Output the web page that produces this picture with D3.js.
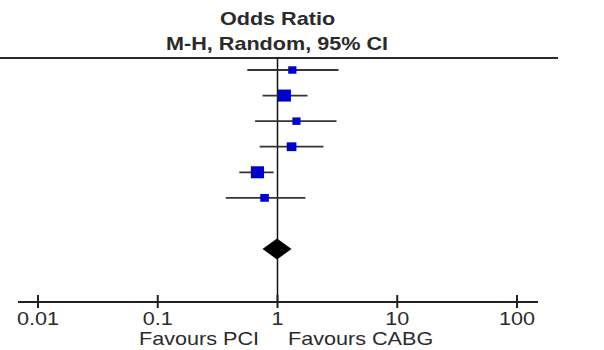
<!DOCTYPE html>
<html>
<head>
<meta charset="utf-8">
<script src="https://cdn.jsdelivr.net/npm/d3@7"></script>
<style>
  body { margin: 0; background: #fff; }
  text { font-family: "Liberation Sans", Arial, sans-serif; fill: #2b2b2b; }
</style>
</head>
<body>
<script>
// study rows (labels are cropped off in the reference)
var studies = ['Study 1', 'Study 2', 'Study 3', 'Study 4', 'Study 5', 'Study 6'];
var oddsRatio = [1.33, 1.14, 1.44, 1.31, 0.68, 0.78];
var ciLower = [0.56, 0.75, 0.65, 0.71, 0.48, 0.37];
var ciUpper = [3.23, 1.78, 3.11, 2.42, 0.93, 1.71];
var weights = [10, 26, 10, 14, 26, 11];

// pooled estimate
var pooled = {or: 0.99, lo: 0.75, hi: 1.31};

var tickValues = [0.01, 0.1, 1, 10, 100];
var tickLabels = ['0.01', '0.1', '1', '10', '100'];

var W = 604, H = 350;
var stretch = 1.2; // the reference is squeezed wide, text too

var svg = d3.select('body').append('svg')
            .attr('width', W)
            .attr('height', H);

var xScale = d3.scaleLog().domain([0.01, 100]).range([38, 517]);
var rows = studies.concat(['', 'Total']);
var yScale = d3.scalePoint().domain(rows).range([70, 249]);
var sizeScale = d3.scaleSqrt().domain([0, 26]).range([0, 12]);

var axisY = 302;
var headerY = 58;

// header texts
function stretchedText(x, y, txt, anchor, weight) {
  return svg.append('text')
            .attr('transform', 'translate(' + x + ',' + y + ')scale(' + stretch + ',1)')
            .attr('text-anchor', anchor)
            .style('font-size', '18px')
            .style('font-weight', weight)
            .text(txt);
}
stretchedText(277.5, 25, 'Odds Ratio', 'middle', 'bold');
stretchedText(277, 50, 'M-H, Random, 95% CI', 'middle', 'bold');

svg.append('line')
   .attr('x1', 0).attr('x2', 558)
   .attr('y1', headerY).attr('y2', headerY)
   .attr('stroke', '#2b2b2b')
   .attr('stroke-width', 2);

// line of no effect
svg.append('line')
   .attr('x1', xScale(1)).attr('x2', xScale(1))
   .attr('y1', headerY).attr('y2', axisY)
   .attr('stroke', '#111')
   .attr('stroke-width', 1.5);

// confidence intervals
var g = svg.append('g');
g.selectAll('.ci')
 .data(studies)
 .enter().append('line')
 .attr('class', 'ci')
 .attr('x1', function(d, i) { return xScale(ciLower[i]); })
 .attr('x2', function(d, i) { return xScale(ciUpper[i]); })
 .attr('y1', function(d) { return yScale(d); })
 .attr('y2', function(d) { return yScale(d); })
 .attr('stroke', '#333')
 .attr('stroke-width', 1.8);

// weight squares
g.selectAll('.box')
 .data(studies)
 .enter().append('rect')
 .attr('class', 'box')
 .attr('x', function(d, i) { return xScale(oddsRatio[i]) - sizeScale(weights[i]) * 0.55; })
 .attr('y', function(d, i) { return yScale(d) - sizeScale(weights[i]) * 0.5; })
 .attr('width', function(d, i) { return sizeScale(weights[i]) * 1.1; })
 .attr('height', function(d, i) { return sizeScale(weights[i]); })
 .attr('fill', '#0000cc');

// pooled diamond
var py = yScale('Total');
svg.append('polygon')
   .attr('points', [[xScale(pooled.lo), py], [xScale(pooled.or), py - 10.5],
                    [xScale(pooled.hi), py], [xScale(pooled.or), py + 10.5]].join(' '))
   .attr('fill', '#000');

// x axis
svg.append('line')
   .attr('x1', 18).attr('x2', 538)
   .attr('y1', axisY).attr('y2', axisY)
   .attr('stroke', '#222')
   .attr('stroke-width', 2);

svg.selectAll('.tick')
   .data(tickValues)
   .enter().append('line')
   .attr('class', 'tick')
   .attr('x1', function(d) { return xScale(d); })
   .attr('x2', function(d) { return xScale(d); })
   .attr('y1', axisY - 7)
   .attr('y2', axisY + 6)
   .attr('stroke', '#222')
   .attr('stroke-width', 2);

tickValues.forEach(function(v, i) {
  stretchedText(xScale(v), 325, tickLabels[i], 'middle', 'normal');
});

stretchedText(259, 345, 'Favours PCI', 'end', 'normal');
stretchedText(288, 345, 'Favours CABG', 'start', 'normal');
</script>
</body>
</html>
